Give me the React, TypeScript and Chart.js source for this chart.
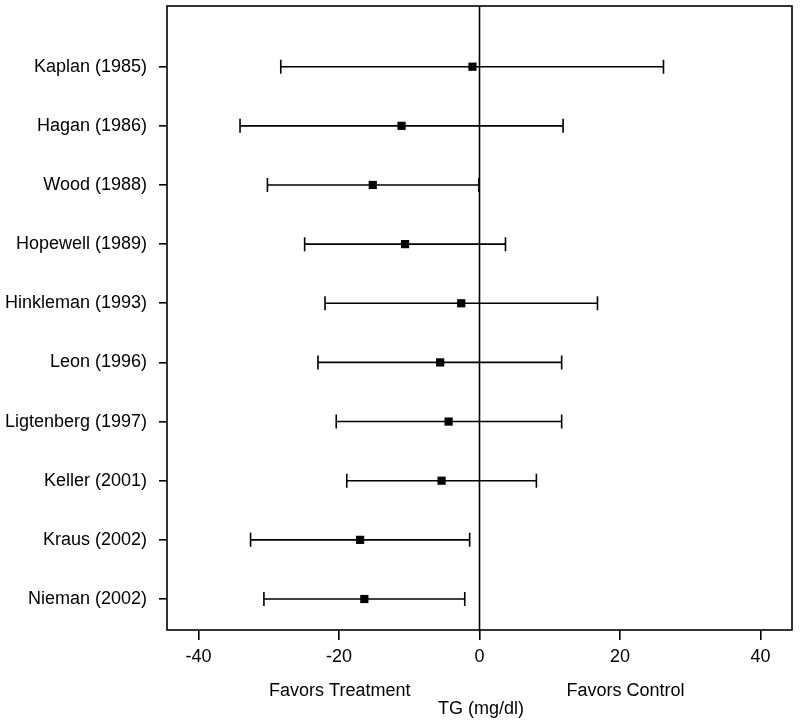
import React, { useEffect, useRef } from "react";
import { Chart, registerables } from "chart.js";

Chart.register(...registerables);

const studies = [
  "Kaplan (1985)",
  "Hagan (1986)",
  "Wood (1988)",
  "Hopewell (1989)",
  "Hinkleman (1993)",
  "Leon (1996)",
  "Ligtenberg (1997)",
  "Keller (2001)",
  "Kraus (2002)",
  "Nieman (2002)",
];
const estimates = [-1.0, -11.1, -15.2, -10.6, -2.6, -5.6, -4.4, -5.4, -17.0, -16.4];
const lower = [-28.3, -34.1, -30.2, -24.9, -22.0, -23.0, -20.4, -18.9, -32.6, -30.7];
const upper = [26.2, 11.9, -0.1, 3.7, 16.8, 11.7, 11.7, 8.1, -1.4, -2.1];
const xTicks = [-40, -20, 0, 20, 40];
const xTitle = "TG (mg/dl)";
const leftNote = "Favors Treatment";
const rightNote = "Favors Control";

const FONT = "'Liberation Sans', Arial, Helvetica, sans-serif";

const forestPlugin = {
  id: "forest",
  beforeDatasetsDraw(chart: any) {
    const { ctx, chartArea, scales } = chart;
    const xs = scales.x;
    const ys = scales.y;
    ctx.save();
    ctx.strokeStyle = "#000";
    ctx.lineWidth = 1.6;
    const x0 = xs.getPixelForValue(0);
    ctx.beginPath();
    ctx.moveTo(x0, chartArea.top);
    ctx.lineTo(x0, chartArea.bottom);
    ctx.stroke();
    studies.forEach((_, i) => {
      const y = ys.getPixelForValue(studies.length - i);
      const xl = xs.getPixelForValue(lower[i]);
      const xu = xs.getPixelForValue(upper[i]);
      ctx.beginPath();
      ctx.moveTo(xl, y);
      ctx.lineTo(xu, y);
      ctx.moveTo(xl, y - 7);
      ctx.lineTo(xl, y + 7);
      ctx.moveTo(xu, y - 7);
      ctx.lineTo(xu, y + 7);
      ctx.stroke();
    });
    ctx.restore();
  },
  afterDraw(chart: any) {
    const { ctx, chartArea, scales } = chart;
    const xs = scales.x;
    ctx.save();
    ctx.strokeStyle = "#000";
    ctx.lineWidth = 1.6;
    ctx.strokeRect(
      chartArea.left,
      chartArea.top,
      chartArea.right - chartArea.left,
      chartArea.bottom - chartArea.top
    );
    ctx.fillStyle = "#000";
    ctx.font = `18px ${FONT}`;
    ctx.textAlign = "center";
    ctx.textBaseline = "alphabetic";
    ctx.fillText(leftNote, xs.getPixelForValue(-19.9), 696);
    ctx.fillText(rightNote, xs.getPixelForValue(20.8), 696);
    ctx.fillText(xTitle, xs.getPixelForValue(0.2), 714);
    ctx.restore();
  },
};

export default function App() {
  const ref = useRef<HTMLCanvasElement | null>(null);
  useEffect(() => {
    if (!ref.current) return;
    const chart = new Chart(ref.current, {
      type: "scatter",
      data: {
        datasets: [
          {
            data: estimates.map((e, i) => ({ x: e, y: studies.length - i })),
            pointStyle: "rect",
            radius: 5.8,
            backgroundColor: "#000",
            borderColor: "#000",
            borderWidth: 0,
          },
        ],
      },
      options: {
        animation: false,
        responsive: false,
        layout: { padding: { top: 6, right: 8, left: 0, bottom: 0 } },
        plugins: {
          legend: { display: false },
          tooltip: { enabled: false },
        },
        scales: {
          x: {
            type: "linear",
            min: -44.5,
            max: 44.5,
            afterBuildTicks: (s: any) => {
              s.ticks = xTicks.map((v) => ({ value: v }));
            },
            afterFit: (s: any) => {
              s.height = 92;
              s.paddingLeft = 0;
              s.paddingRight = 0;
            },
            grid: {
              drawOnChartArea: false,
              drawTicks: true,
              tickLength: 10,
              color: "#000",
              lineWidth: 1.6,
            },
            border: { display: false },
            ticks: {
              color: "#000",
              padding: 6,
              font: { family: FONT, size: 18 },
              maxRotation: 0,
            },
          },
          y: {
            type: "linear",
            min: 0.476,
            max: 11.026,
            afterBuildTicks: (s: any) => {
              s.ticks = studies.map((_, i) => ({ value: studies.length - i }));
            },
            afterFit: (s: any) => {
              s.width = 167;
              s.paddingTop = 0;
              s.paddingBottom = 0;
            },
            grid: {
              drawOnChartArea: false,
              drawTicks: true,
              tickLength: 8,
              color: "#000",
              lineWidth: 1.6,
            },
            border: { display: false },
            ticks: {
              color: "#000",
              padding: 12,
              font: { family: FONT, size: 18 },
              callback: (v: any) => studies[studies.length - Number(v)] ?? "",
            },
          },
        },
      },
      plugins: [forestPlugin],
    });
    return () => chart.destroy();
  }, []);
  return (
    <div style={{ position: "absolute", left: 0, top: 0, width: 800, height: 722, background: "#fff" }}>
      <canvas ref={ref} width={800} height={722} style={{ width: 800, height: 722 }} />
    </div>
  );
}
